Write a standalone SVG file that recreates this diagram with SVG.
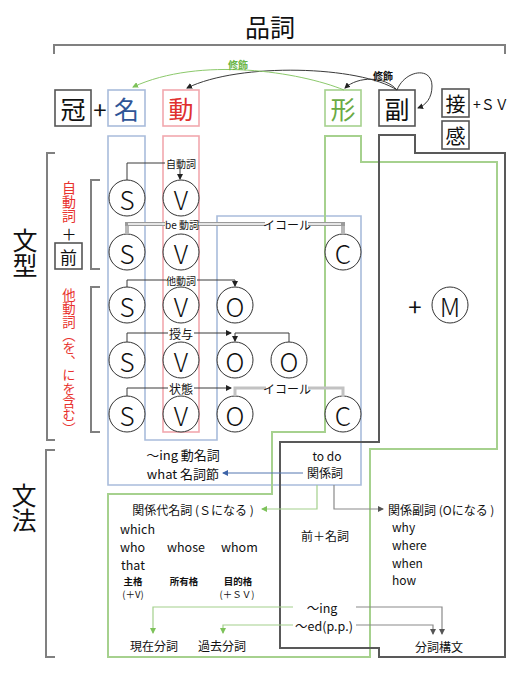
<svg xmlns="http://www.w3.org/2000/svg" width="531" height="684" viewBox="0 0 531 684">
<style>
text{font-family:"Noto Sans CJK JP","Noto Sans",sans-serif;fill:#111;dominant-baseline:central;text-anchor:middle}
.st{text-anchor:start}
.big{font-size:25px}
.vt{font-size:25px;writing-mode:vertical-rl;text-anchor:start}
.pos{font-size:25px}
.ltr{font-size:26px;font-weight:300}
.sm{font-size:10px}
.md{font-size:12px}
.mm{font-size:12.5px}
.b{font-weight:bold}
.red{fill:#e8322e}
.box{fill:none;stroke:#555;stroke-width:1.6}
.brk{fill:none;stroke:#808080;stroke-width:2}
.cir{fill:#fff;stroke:#333;stroke-width:1}
.ln{fill:none;stroke:#3a3a3a;stroke-width:1}
.gl{fill:none;stroke:#a3d08c;stroke-width:1.2}
.gy{fill:none;stroke:#8a8a8a;stroke-width:1.2}
</style>
<defs>
<marker id="ak" markerWidth="6" markerHeight="6" refX="5" refY="3" orient="auto" markerUnits="userSpaceOnUse"><path d="M0,0 L6,3 L0,6 z" fill="#222"/></marker>
<marker id="ag" markerWidth="6" markerHeight="6" refX="5" refY="3" orient="auto" markerUnits="userSpaceOnUse"><path d="M0,0 L6,3 L0,6 z" fill="#7dc25a"/></marker>
<marker id="ab" markerWidth="6" markerHeight="6" refX="5" refY="3" orient="auto" markerUnits="userSpaceOnUse"><path d="M0,0 L6,3 L0,6 z" fill="#3d64a8"/></marker>
<marker id="ay" markerWidth="6" markerHeight="6" refX="5" refY="3" orient="auto" markerUnits="userSpaceOnUse"><path d="M0,0 L6,3 L0,6 z" fill="#555"/></marker>
</defs>
<rect width="531" height="684" fill="#fff"/>

<!-- regions -->
<g id="regions">
<polygon points="108,136 145,136 145,440 217,440 217,216 361,216 361,485 108,485" fill="none" stroke="#a9bcdb" stroke-width="1.6"/>
<rect x="163" y="136" width="36" height="296" fill="none" stroke="#f2a8ae" stroke-width="1.6"/>
<polygon points="325,136 361,136 361,162 497,162 497,449 370,449 370,657 108,657 108,494 272,494 272,432 325,432" fill="none" stroke="#a6d18e" stroke-width="2"/>
<polygon points="379,135 415,135 415,153 505,153 505,657 379,657 379,648 280,648 280,442 379,442" fill="none" stroke="#595959" stroke-width="2"/>
</g>

<!-- title and brackets -->
<g id="title">
<text x="270" y="26" class="big">品詞</text>
<path class="brk" d="M54,54 V45 H505 V54"/>
</g>
<g id="bunkei">
<path class="brk" d="M55,153 H47 V440 H55"/>
<text x="25" y="228" class="vt">文型</text>
</g>
<g id="bunpou">
<path class="brk" d="M55,450 H46 V657 H55"/>
<text x="24" y="483" class="vt">文法</text>
</g>
<g id="jidoushi">
<path class="brk" d="M100,180 H91 V269 H100"/>
<text x="69" y="181" class="red" style="font-size:14px;writing-mode:vertical-rl;text-anchor:start">自動詞</text>
<text x="69" y="233" style="font-size:15px">＋</text>
<rect x="55" y="243" width="27" height="26" class="box"/>
<text x="68.5" y="256" style="font-size:17px">前</text>
</g>
<g id="tadoushi">
<path class="brk" d="M100,287 H91 V432 H100"/>
<text x="69" y="288" class="red" style="font-size:13.4px;writing-mode:vertical-rl;text-anchor:start">他動詞（を、にを含む）</text>
</g>

<!-- parts of speech -->
<g id="kan"><rect x="55" y="90" width="36" height="36" class="box"/><text x="73" y="108" class="pos">冠</text></g>
<g id="plus1"><text x="100" y="108" style="font-size:24px">+</text></g>
<g id="mei"><rect x="108" y="90" width="37" height="36" fill="none" stroke="#a9bcdb" stroke-width="1.6"/><text x="126.5" y="108" class="pos" style="fill:#2f5597">名</text></g>
<g id="dou"><rect x="163" y="90" width="36" height="36" fill="none" stroke="#f2a8ae" stroke-width="1.6"/><text x="181" y="108" class="pos" style="fill:#e0302e">動</text></g>
<g id="kei"><rect x="325" y="90" width="36" height="36" fill="none" stroke="#a6d18e" stroke-width="1.6"/><text x="343" y="108" class="pos" style="fill:#6aaa44">形</text></g>
<g id="fuku"><rect x="379" y="90" width="36" height="36" class="box"/><text x="397" y="108" class="pos">副</text></g>
<g id="setsu"><rect x="442" y="89" width="27" height="28" class="box"/><text x="455.5" y="103" style="font-size:20px">接</text><text x="473" y="104" class="st" style="font-size:14px">+ＳＶ</text></g>
<g id="kan2"><rect x="442" y="121" width="27" height="28" class="box"/><text x="455.5" y="135" style="font-size:20px">感</text></g>

<!-- sentence pattern circles -->
<g id="r1s"><circle cx="127" cy="198" r="18" class="cir"/><text x="127" y="198" class="ltr">S</text></g>
<g id="r1v"><circle cx="181" cy="198" r="18" class="cir"/><text x="181" y="198" class="ltr">V</text></g>
<g id="r2s"><circle cx="127" cy="252" r="18" class="cir"/><text x="127" y="252" class="ltr">S</text></g>
<g id="r2v"><circle cx="181" cy="252" r="18" class="cir"/><text x="181" y="252" class="ltr">V</text></g>
<g id="r2c"><circle cx="343" cy="252" r="18" class="cir"/><text x="343" y="252" class="ltr">C</text></g>
<g id="r3s"><circle cx="127" cy="305" r="18" class="cir"/><text x="127" y="305" class="ltr">S</text></g>
<g id="r3v"><circle cx="181" cy="305" r="18" class="cir"/><text x="181" y="305" class="ltr">V</text></g>
<g id="r3o"><circle cx="235" cy="305" r="18" class="cir"/><text x="235" y="305" class="ltr">O</text></g>
<g id="r4s"><circle cx="127" cy="360" r="18" class="cir"/><text x="127" y="360" class="ltr">S</text></g>
<g id="r4v"><circle cx="181" cy="360" r="18" class="cir"/><text x="181" y="360" class="ltr">V</text></g>
<g id="r4o1"><circle cx="235" cy="360" r="18" class="cir"/><text x="235" y="360" class="ltr">O</text></g>
<g id="r4o2"><circle cx="289" cy="360" r="18" class="cir"/><text x="289" y="360" class="ltr">O</text></g>
<g id="r5s"><circle cx="127" cy="414" r="18" class="cir"/><text x="127" y="414" class="ltr">S</text></g>
<g id="r5v"><circle cx="181" cy="414" r="18" class="cir"/><text x="181" y="414" class="ltr">V</text></g>
<g id="r5o"><circle cx="235" cy="414" r="18" class="cir"/><text x="235" y="414" class="ltr">O</text></g>
<g id="r5c"><circle cx="343" cy="414" r="18" class="cir"/><text x="343" y="414" class="ltr">C</text></g>
<g id="mod"><text x="415" y="305" style="font-size:24px">+</text><circle cx="450" cy="305" r="18" class="cir"/><text x="450" y="305" class="ltr">M</text></g>

<!-- grammar texts -->
<g id="doumeishi"><text x="183" y="454" style="font-size:13px">～ing 動名詞</text><text x="183" y="473" style="font-size:13px">what 名詞節</text></g>
<g id="kankeishi"><text x="327" y="455" style="font-size:12px">to do</text><text x="325" y="472" style="font-size:12px">関係詞</text></g>
<g id="kandai">
<text x="193" y="509" class="md">関係代名詞 (Ｓになる )</text>
<text x="120" y="528" class="st mm">which</text>
<text x="120" y="546" class="st mm">who</text>
<text x="167" y="546" class="st mm">whose</text>
<text x="221" y="546" class="st mm">whom</text>
<text x="121" y="564" class="st mm">that</text>
<text x="133" y="581" class="b" style="font-size:9.5px">主格</text>
<text x="133" y="594" style="font-size:9.5px">(＋V)</text>
<text x="184" y="581" class="b" style="font-size:9.5px">所有格</text>
<text x="238" y="581" class="b" style="font-size:9.5px">目的格</text>
<text x="237" y="594" style="font-size:9.5px">(＋ＳＶ)</text>
</g>
<g id="zenmei"><text x="325" y="535" class="md">前＋名詞</text></g>
<g id="kanfuku">
<text x="388" y="509" class="st md">関係副詞 (Oになる )</text>
<text x="392" y="526" class="st md">why</text>
<text x="392" y="544" class="st md">where</text>
<text x="392" y="562" class="st md">when</text>
<text x="392" y="579" class="st md">how</text>
</g>
<g id="bunshi">
<text x="322" y="607" class="mm">～ing</text>
<text x="324" y="625" class="mm">～ed(p.p.)</text>
<text x="154" y="645" class="md">現在分詞</text>
<text x="222" y="645" class="md">過去分詞</text>
<text x="439" y="646" class="md">分詞構文</text>
</g>

<!-- connectors -->
<g id="connectors">
<path class="ln" d="M397,90 C360,66 240,62 187,88" marker-end="url(#ak)"/>
<path class="ln" d="M397,90 C385,76 358,76 345,88" marker-end="url(#ak)"/>
<path class="ln" d="M397,90 C405,70 432,66 432,86 C432,98 426,105 418,108" marker-end="url(#ak)"/>
<text x="383" y="75" class="sm b">修飾</text>
<path fill="none" stroke="#8cc96c" stroke-width="1" d="M344,90 C300,72 200,56 133,87" marker-end="url(#ag)"/>
<text x="238" y="64" class="sm b" style="fill:#6ab545">修飾</text>

<path class="ln" d="M127,180 V163 H165"/>
<text x="181" y="163" class="sm">自動詞</text>
<path class="ln" d="M180,168 V179" marker-end="url(#ak)"/>

<rect x="125" y="224" width="4" height="10" fill="#b8b8b8"/>
<rect x="341" y="224" width="4" height="10" fill="#b8b8b8"/>
<path fill="none" stroke="#9a9a9a" stroke-width="4" d="M125,224 H165 M198,224 H265 M308,224 H345"/>
<path fill="none" stroke="#fff" stroke-width="1.6" d="M128,224 H165 M198,224 H265 M308,224 H341"/>
<text x="182" y="224" class="sm">be 動詞</text>
<text x="287" y="224" class="md">イコール</text>

<path class="ln" d="M127,287 V280 H166"/>
<text x="181" y="280" class="sm">他動詞</text>
<path class="ln" d="M197,280 H235 V286" marker-end="url(#ak)"/>

<path class="ln" d="M127,342 V333 H168"/>
<text x="181" y="333" class="md">授与</text>
<path class="ln" d="M194,333 H231" marker-end="url(#ak)"/>
<path class="ln" d="M289,342 V333 H235 V341" marker-end="url(#ak)"/>

<path class="ln" d="M127,396 V388 H168"/>
<text x="181" y="388" class="md">状態</text>
<path class="ln" d="M194,388 H231" marker-end="url(#ak)"/>
<path fill="none" stroke="#c2c2c2" stroke-width="3" d="M235,396 V388 H266 M308,388 H343 V397"/>
<text x="287" y="388" class="md">イコール</text>

<path fill="none" stroke="#5577b0" stroke-width="1" d="M303,473 H223" marker-end="url(#ab)"/>
<path class="gl" d="M317,485 V509 H262" marker-end="url(#ag)"/>
<path class="gy" d="M334,485 V509 H383" marker-end="url(#ay)"/>

<path class="gl" d="M293,607 H153 V633" marker-end="url(#ag)"/>
<path class="gl" d="M293,625 H223 V633" marker-end="url(#ag)"/>
<path class="gy" d="M356,607 H442 V634" marker-end="url(#ay)"/>
<path class="gy" d="M356,625 H433 V634" marker-end="url(#ay)"/>
</g>
</svg>
